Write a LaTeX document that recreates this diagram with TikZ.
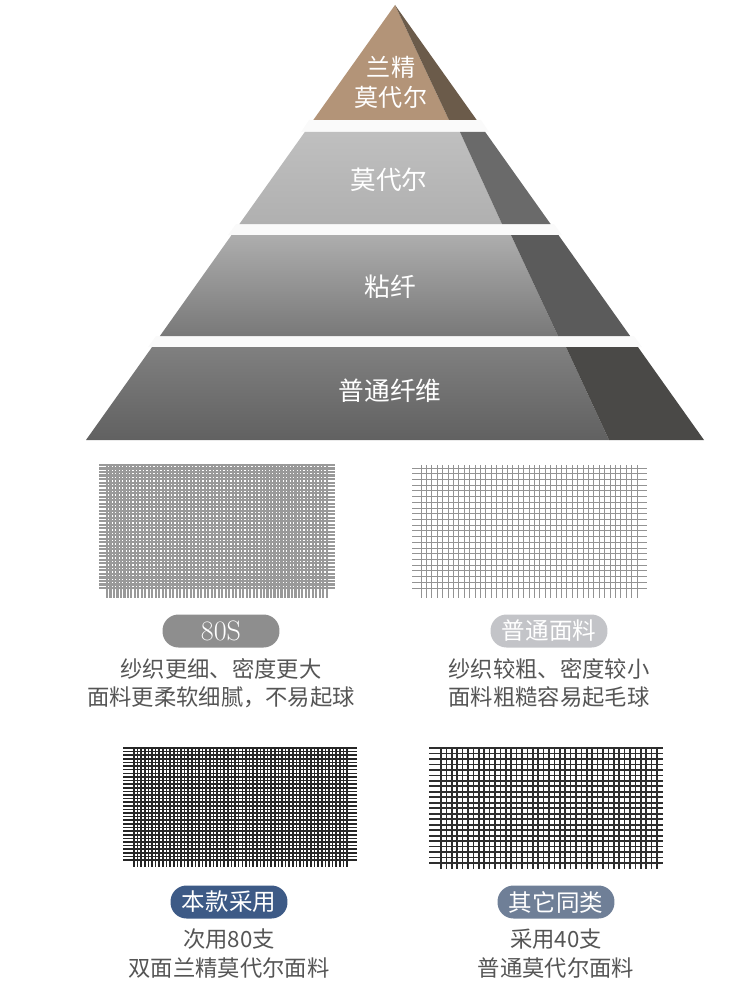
\documentclass[tikz,border=0pt]{standalone}
\usepackage{fontspec}
\usepackage{tikz}
\usepackage{xcolor}
\usetikzlibrary{positioning}
\newfontfamily\cjk{Noto Sans CJK SC}
\definecolor{Lz_Brown}{HTML}{B39478}
\definecolor{Lz_BrownDark}{HTML}{6B5B4A}
\definecolor{Pyr_Dark2}{HTML}{6A6A6A}
\definecolor{Pyr_Dark3}{HTML}{5B5B5B}
\definecolor{Pyr_Dark4}{HTML}{4A4947}
\definecolor{Pill_Gray}{HTML}{8E8E8E}
\definecolor{Pill_Light}{HTML}{C3C4C8}
\definecolor{Pill_Blue}{HTML}{3D5A86}
\definecolor{Pill_Slate}{HTML}{6F7F97}
\definecolor{Desc_Text}{HTML}{555555}

\begin{document}
\begin{tikzpicture}[
  x=0.02cm, y=-0.02cm,
  lbl/.style={text=white, font=\cjk\fontsize{14.6}{17}\selectfont, align=center, inner sep=0pt},
  pill/.style={rounded corners=0.32cm, minimum width=2.34cm, minimum height=0.66cm,
    inner sep=0pt, text=white, font=\cjk\fontsize{13.4}{16}\selectfont},
  desc/.style={text=Desc_Text, font=\cjk\fontsize{12.7}{16.4}\selectfont, align=center,
    inner sep=0pt, below=0.2cm},
  gap/.style={fill=gray!4},
  denseA/.style={line width=1.2pt, color=gray!80},
  fineB/.style={line width=0.5pt, color=gray!85},
  denseC/.style={line width=0.9pt, color=black!85},
  coarseD/.style={line width=1.0pt, color=black!82}
]
  \useasboundingbox (0,0) rectangle (750,1000);

  % Pyramid gaps
  \fill[gap] (309,120) -- (481,120) -- (489,132) -- (301,132) -- cycle;
  \fill[gap] (236,224) -- (554,224) -- (562,235) -- (228,235) -- cycle;
  \fill[gap] (156,336) -- (634,336) -- (642,347) -- (148,347) -- cycle;

  % Top level
  \fill[Lz_Brown] (395,5) -- (449,120) -- (313.3,120) -- cycle;
  \fill[Lz_BrownDark] (395,5) -- (476.7,120) -- (449,120) -- cycle;
  \node[lbl, font=\cjk\fontsize{13.7}{17}\selectfont] (lenzing) at (391,82) {兰精\\莫代尔};

  % Second level
  \shade[top color=gray!50, bottom color=gray!62] (304.8,132) -- (460,132) -- (502,224) -- (239.4,224) -- cycle;
  \fill[Pyr_Dark2] (460,132) -- (485.2,132) -- (550.6,224) -- (502,224) -- cycle;
  \node[lbl] (modal) at (389,180) {莫代尔};

  % Third level
  \shade[top color=gray!64, bottom color=gray!82!white!80!black] (231.6,235) -- (511,235) -- (558,336) -- (159.9,336) -- cycle;
  \fill[Pyr_Dark3] (511,235) -- (558.4,235) -- (630.1,336) -- (558,336) -- cycle;
  \node[lbl] (viscose) at (390,287) {粘纤};

  % Bottom level
  \shade[top color=black!50, bottom color=black!62] (152.1,347) -- (566,347) -- (609,440) -- (86,440) -- cycle;
  \fill[Pyr_Dark4] (566,347) -- (637.9,347) -- (704,440) -- (609,440) -- cycle;
  \node[lbl] (common) at (390,391) {普通纤维};

  % Fabric grid 80S
  \foreach \i in {0,...,35}
    \draw[denseA] (99,{465+\i*3.514}) -- (335,{465+\i*3.514});
  \foreach \i in {0,...,63}
    \draw[denseA] ({107+\i*3.49},465) -- ({107+\i*3.49},598);

  % Fabric grid normal
  \foreach \i in {0,...,21}
    \draw[fineB] (412,{468+\i*5.714}) -- (647,{468+\i*5.714});
  \foreach \i in {0,...,40}
    \draw[fineB] ({421+\i*5.4},465) -- ({421+\i*5.4},598);

  % Fabric grid ours
  \foreach \i in {0,...,31}
    \draw[denseC] (123,{748+\i*3.613}) -- (357,{748+\i*3.613});
  \foreach \i in {0,...,59}
    \draw[denseC] ({134+\i*3.61},748) -- ({134+\i*3.61},867);

  % Fabric grid other
  \foreach \i in {0,...,21}
    \draw[coarseD] (429,{748+\i*5.476}) -- (663,{748+\i*5.476});
  \foreach \i in {0,...,40}
    \draw[coarseD] ({441+\i*5.4},747) -- ({441+\i*5.4},869);

  % Labels upper row
  \node[pill, fill=Pill_Gray, font=\rmfamily\fontsize{16}{18}\selectfont] (p80) at (221,631) {80S};
  \node[desc] (d80) at (p80.south) {纱织更细、密度更大\\面料更柔软细腻，不易起球};
  \node[pill, fill=Pill_Light] (pnormal) at (549,631) {普通面料};
  \node[desc] (dnormal) at (pnormal.south) {纱织较粗、密度较小\\面料粗糙容易起毛球};

  % Labels lower row
  \node[pill, fill=Pill_Blue] (pours) at (229,902) {本款采用};
  \node[desc] (dours) at (pours.south) {次用80支\\双面兰精莫代尔面料};
  \node[pill, fill=Pill_Slate] (pother) at (556,902) {其它同类};
  \node[desc] (dother) at (pother.south) {采用40支\\普通莫代尔面料};
\end{tikzpicture}
\end{document}
